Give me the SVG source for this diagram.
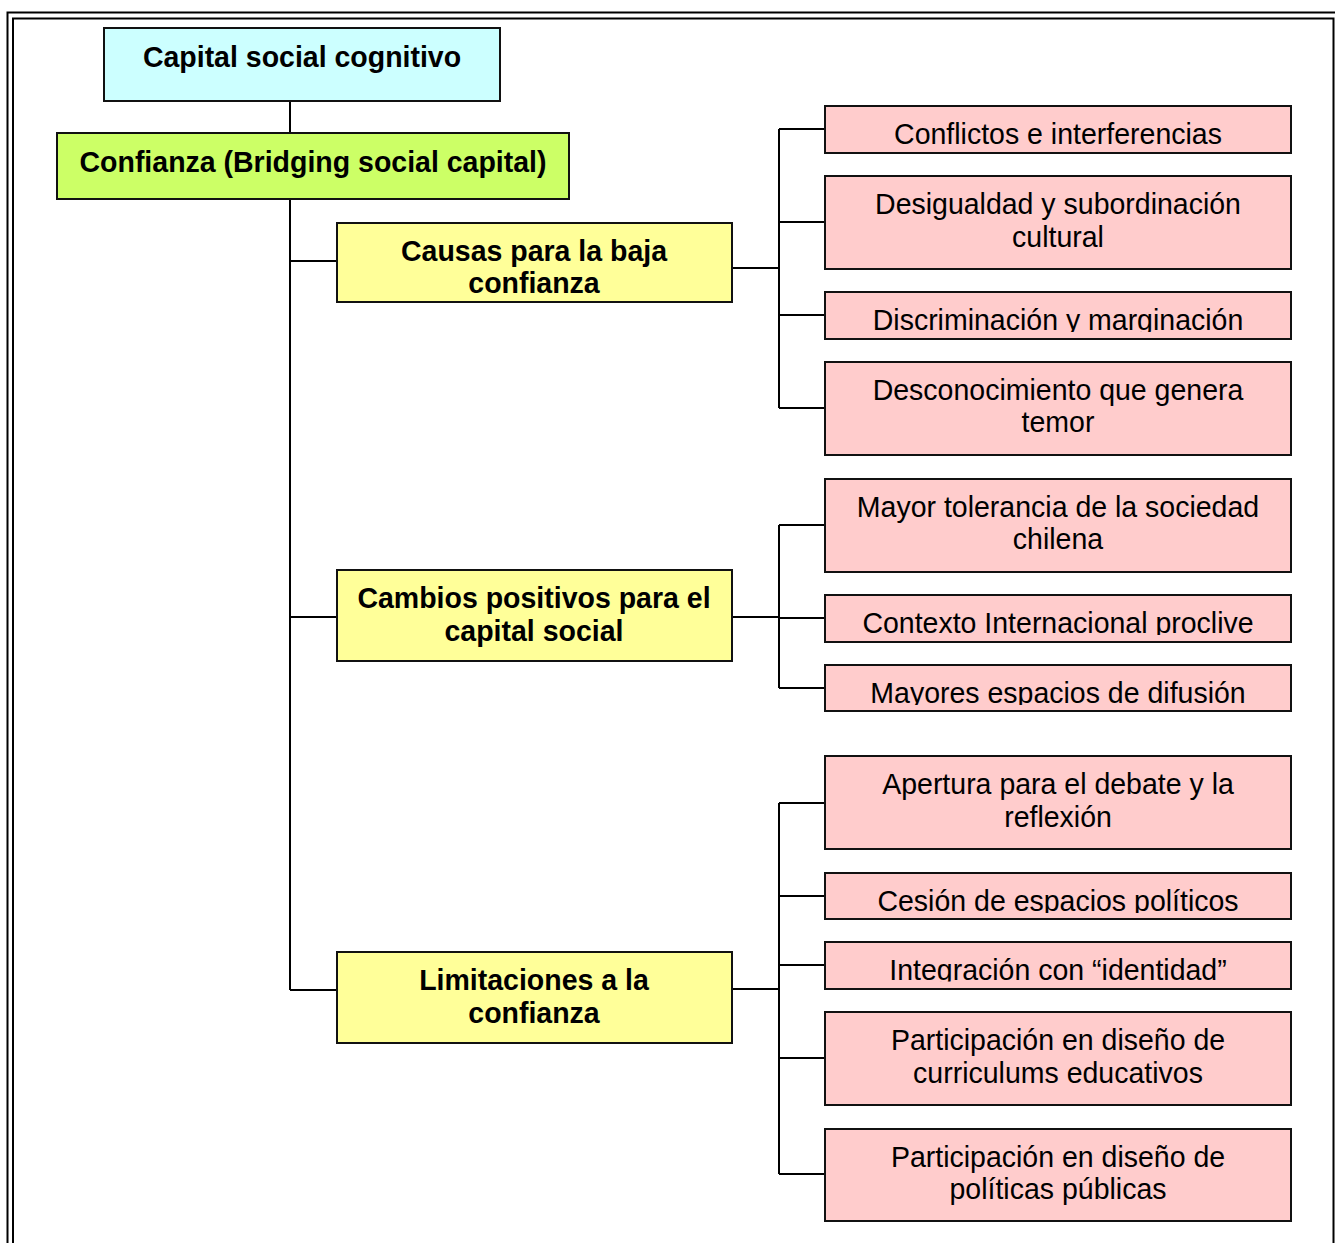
<svg xmlns="http://www.w3.org/2000/svg" width="1335" height="1243" viewBox="0 0 1335 1243">
  <style>
    .box { stroke: #111; stroke-width: 2; }
    .cog { fill: #CCFFFF; }
    .conf { fill: #CCFF66; }
    .cat { fill: #FFFF99; }
    .item { fill: #FFCCCC; }
    .b { font-family: "Liberation Sans", Arial, sans-serif; font-weight: bold; font-size: 28.5px; fill: #000; text-anchor: middle; }
    .r { font-family: "Liberation Sans", Arial, sans-serif; font-size: 28.5px; fill: #000; text-anchor: middle; }
    .wire { fill: none; stroke: #000; stroke-width: 2; }
    .frame { fill: none; stroke: #000; stroke-width: 2; }
  </style>
  <defs>
    <!-- single-line labels are cut at the bottom of their text frame -->
    <clipPath id="clip-disc"><rect x="826" y="293" width="464" height="39"/></clipPath>
    <clipPath id="clip-ctx"><rect x="826" y="596" width="464" height="39"/></clipPath>
    <clipPath id="clip-may"><rect x="826" y="666" width="464" height="39"/></clipPath>
    <clipPath id="clip-ces"><rect x="826" y="874" width="464" height="39"/></clipPath>
    <clipPath id="clip-int"><rect x="826" y="943" width="464" height="38.5"/></clipPath>
  </defs>

  <rect width="1335" height="1243" fill="#fff"/>

  <!-- double page frame -->
  <rect class="frame" x="7.5" y="12.5" width="1340" height="1250"/>
  <rect class="frame" x="13" y="18.5" width="1320.5" height="1240"/>

  <!-- connectors -->
  <g id="connectors">
    <path class="wire" d="M290 101 V133 M290 199 V990 M290 261 H337 M290 617 H337 M290 990 H337"/>
    <path class="wire" d="M732 268 H779 M779 129 V408 M779 129 H825 M779 222 H825 M779 315 H825 M779 408 H825"/>
    <path class="wire" d="M732 617 H779 M779 525 V688 M779 525 H825 M779 618 H825 M779 688 H825"/>
    <path class="wire" d="M732 989 H779 M779 803 V1174 M779 803 H825 M779 896 H825 M779 965 H825 M779 1058 H825 M779 1174 H825"/>
  </g>

  <g id="n-cognitivo">
    <rect class="box cog" x="104" y="28" width="396" height="73"/>
    <text class="b" transform="translate(302 67) scale(1 1.06)">Capital social cognitivo</text>
  </g>
  <g id="n-confianza">
    <rect class="box conf" x="57" y="133" width="512" height="66"/>
    <text class="b" transform="translate(313 172) scale(1 1.06)">Confianza (Bridging social capital)</text>
  </g>

  <g id="n-causas">
    <rect class="box cat" x="337" y="223" width="395" height="79"/>
    <text class="b" transform="translate(534 261) scale(1 1.06)">Causas para la baja</text>
    <text class="b" transform="translate(534 293) scale(1 1.06)">confianza</text>
  </g>
  <g id="n-cambios">
    <rect class="box cat" x="337" y="570" width="395" height="91"/>
    <text class="b" transform="translate(534 608) scale(1 1.06)">Cambios positivos para el</text>
    <text class="b" transform="translate(534 641) scale(1 1.06)">capital social</text>
  </g>
  <g id="n-limitaciones">
    <rect class="box cat" x="337" y="952" width="395" height="91"/>
    <text class="b" transform="translate(534 990) scale(1 1.06)">Limitaciones a la</text>
    <text class="b" transform="translate(534 1023) scale(1 1.06)">confianza</text>
  </g>

  <g id="n-conflictos">
    <rect class="box item" x="825" y="106" width="466" height="47"/>
    <text class="r" transform="translate(1058 144) scale(1 1.06)">Conflictos e interferencias</text>
  </g>
  <g id="n-desigualdad">
    <rect class="box item" x="825" y="176" width="466" height="93"/>
    <text class="r" transform="translate(1058 214) scale(1 1.06)">Desigualdad y subordinación</text>
    <text class="r" transform="translate(1058 247) scale(1 1.06)">cultural</text>
  </g>
  <g id="n-discriminacion">
    <rect class="box item" x="825" y="292" width="466" height="47"/>
    <g clip-path="url(#clip-disc)">
      <text class="r" transform="translate(1058 330) scale(1 1.06)">Discriminación y marginación</text>
    </g>
  </g>
  <g id="n-desconocimiento">
    <rect class="box item" x="825" y="362" width="466" height="93"/>
    <text class="r" transform="translate(1058 400) scale(1 1.06)">Desconocimiento que genera</text>
    <text class="r" transform="translate(1058 432) scale(1 1.06)">temor</text>
  </g>

  <g id="n-tolerancia">
    <rect class="box item" x="825" y="479" width="466" height="93"/>
    <text class="r" transform="translate(1058 517) scale(1 1.06)">Mayor tolerancia de la sociedad</text>
    <text class="r" transform="translate(1058 549) scale(1 1.06)">chilena</text>
  </g>
  <g id="n-contexto">
    <rect class="box item" x="825" y="595" width="466" height="47"/>
    <g clip-path="url(#clip-ctx)">
      <text class="r" transform="translate(1058 633) scale(1 1.06)">Contexto Internacional proclive</text>
    </g>
  </g>
  <g id="n-mayores">
    <rect class="box item" x="825" y="665" width="466" height="46"/>
    <g clip-path="url(#clip-may)">
      <text class="r" transform="translate(1058 703) scale(1 1.06)">Mayores espacios de difusión</text>
    </g>
  </g>

  <g id="n-apertura">
    <rect class="box item" x="825" y="756" width="466" height="93"/>
    <text class="r" transform="translate(1058 794) scale(1 1.06)">Apertura para el debate y la</text>
    <text class="r" transform="translate(1058 827) scale(1 1.06)">reflexión</text>
  </g>
  <g id="n-cesion">
    <rect class="box item" x="825" y="873" width="466" height="46"/>
    <g clip-path="url(#clip-ces)">
      <text class="r" transform="translate(1058 911) scale(1 1.06)">Cesión de espacios políticos</text>
    </g>
  </g>
  <g id="n-integracion">
    <rect class="box item" x="825" y="942" width="466" height="47"/>
    <g clip-path="url(#clip-int)">
      <text class="r" transform="translate(1058 980) scale(1 1.06)">Integración con “identidad”</text>
    </g>
  </g>
  <g id="n-curriculums">
    <rect class="box item" x="825" y="1012" width="466" height="93"/>
    <text class="r" transform="translate(1058 1050) scale(1 1.06)">Participación en diseño de</text>
    <text class="r" transform="translate(1058 1083) scale(1 1.06)">curriculums educativos</text>
  </g>
  <g id="n-politicas">
    <rect class="box item" x="825" y="1129" width="466" height="92"/>
    <text class="r" transform="translate(1058 1167) scale(1 1.06)">Participación en diseño de</text>
    <text class="r" transform="translate(1058 1199) scale(1 1.06)">políticas públicas</text>
  </g>
</svg>
